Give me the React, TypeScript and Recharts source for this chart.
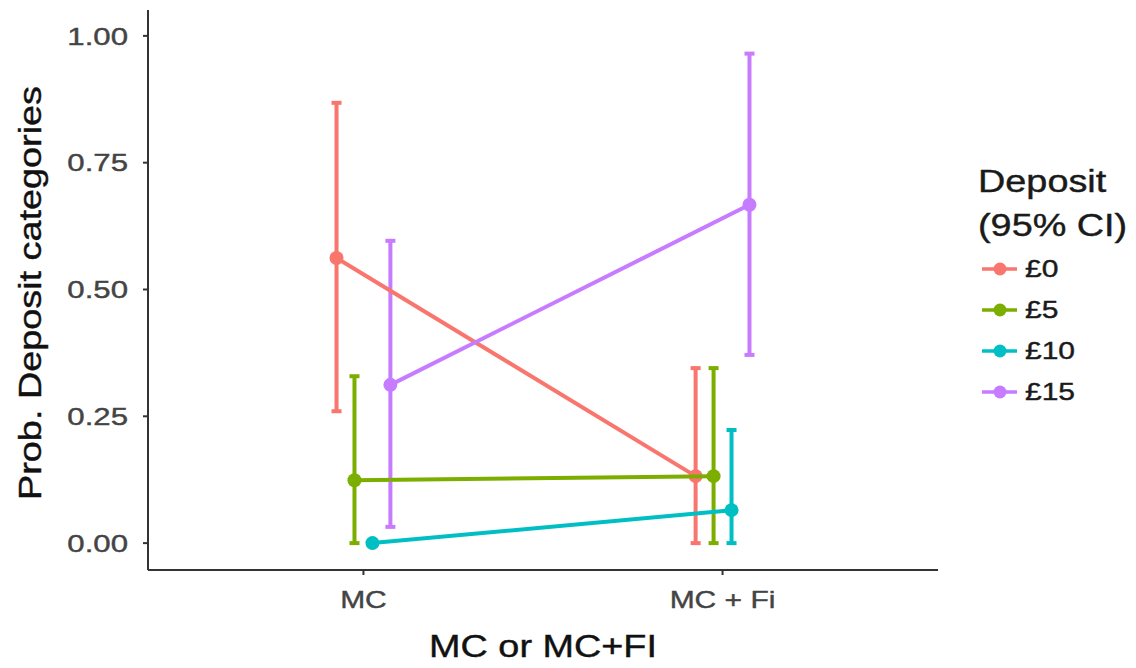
import { ErrorBar, Scatter, ScatterChart, XAxis, YAxis } from "recharts"

const categories = ["MC", "MC + Fi"]
const deposits = ["£0", "£5", "£10", "£15"]
const colors = ["#F8766D", "#7CAE00", "#00BFC4", "#C77CFF"]

// estimates and 95% CI per deposit category, [MC, MC + Fi]
const prob0 = [0.562, 0.132]
const low0 = [0.26, 0]
const high0 = [0.868, 0.345]

const prob5 = [0.124, 0.132]
const low5 = [0, 0]
const high5 = [0.329, 0.345]

const prob10 = [0, 0.065]
const low10 = [0, 0]
const high10 = [0, 0.223]

const prob15 = [0.312, 0.667]
const low15 = [0.032, 0.371]
const high15 = [0.596, 0.965]

const yTicks = [0, 0.25, 0.5, 0.75, 1]

const probs = [prob0, prob5, prob10, prob15]
const lows = [low0, low5, low10, low15]
const highs = [high0, high5, high10, high15]

// position_dodge offsets in x units
const dodge = [-0.075, -0.025, 0.025, 0.075]

const font = '"Liberation Sans", Arial, Helvetica, sans-serif'
// the original text is drawn noticeably wider than Liberation Sans
const stretch = 1.22

const series = deposits.map((name, s) => ({
  name,
  color: colors[s],
  data: categories.map((cat, i) => ({
    x: i + 1 + dodge[s],
    y: probs[s][i],
    err: [probs[s][i] - lows[s][i], highs[s][i] - probs[s][i]],
  })),
}))

function Dot(props: any) {
  const { cx, cy, fill } = props
  return <circle cx={cx} cy={cy} r={7} fill={fill} />
}

function XTick(props: any) {
  const { x, y, payload } = props
  return (
    <g transform={`translate(${x},${y}) scale(1.25,1)`}>
      <text
        textAnchor="middle"
        dy="0.71em"
        fill="#444"
        stroke="#444"
        strokeWidth={0.4}
        fontSize={24}
        fontFamily={font}
      >
        {categories[payload.value - 1]}
      </text>
    </g>
  )
}

function YTick(props: any) {
  const { x, y, payload } = props
  return (
    <g transform={`translate(${x},${y}) scale(1.3,1)`}>
      <text
        textAnchor="end"
        dy="0.36em"
        fill="#444"
        stroke="#444"
        strokeWidth={0.4}
        fontSize={24}
        fontFamily={font}
      >
        {payload.value.toFixed(2)}
      </text>
    </g>
  )
}

function XTitle(props: any) {
  const { x, width } = props.viewBox
  return (
    <g transform={`translate(${x + width / 2},657) scale(${stretch},1)`}>
      <text textAnchor="middle" fill="#111" stroke="#111" strokeWidth={0.4} fontSize={31} fontFamily={font}>
        MC or MC+FI
      </text>
    </g>
  )
}

function YTitle(props: any) {
  const { y, height } = props.viewBox
  return (
    <g transform={`translate(41,${y + height / 2 + 3}) rotate(-90) scale(${stretch},1)`}>
      <text textAnchor="middle" fill="#111" stroke="#111" strokeWidth={0.4} fontSize={31} fontFamily={font}>
        Prob. Deposit categories
      </text>
    </g>
  )
}

function DepositLegend() {
  return (
    <div
      style={{
        position: "absolute",
        left: 978,
        top: 160,
        fontFamily: font,
        color: "#1a1a1a",
        WebkitTextStroke: "0.4px #1a1a1a",
      }}
    >
      <div style={{ transform: `scaleX(${stretch})`, transformOrigin: "left" }}>
        <div style={{ fontSize: 31, lineHeight: "44px" }}>Deposit</div>
        <div style={{ fontSize: 31, lineHeight: "44px" }}>(95% CI)</div>
      </div>
      {deposits.map((d, i) => (
        <div key={d} style={{ display: "flex", alignItems: "center", height: 41 }}>
          <svg width={44} height={20}>
            <line x1={4} y1={10} x2={39} y2={10} stroke={colors[i]} strokeWidth={3.5} />
            <circle cx={22} cy={10} r={6.5} fill={colors[i]} />
          </svg>
          <span
            style={{
              fontSize: 24,
              marginLeft: 3,
              display: "inline-block",
              transform: `scaleX(1.25)`,
              transformOrigin: "left",
            }}
          >
            {d}
          </span>
        </div>
      ))}
    </div>
  )
}

export default function App() {
  return (
    <div style={{ position: "absolute", left: 0, top: 0, width: 1136, height: 668, background: "#fff" }}>
      <ScatterChart
        width={1136}
        height={668}
        margin={{ top: 10, right: 198, bottom: 0, left: 0 }}
      >
        <XAxis
          type="number"
          dataKey="x"
          domain={[0.4, 2.6]}
          ticks={[1, 2]}
          height={98}
          stroke="#333333"
          strokeWidth={2}
          tickSize={5}
          tickMargin={16}
          tick={<XTick />}
          label={<XTitle />}
          allowDataOverflow
        />
        <YAxis
          type="number"
          dataKey="y"
          domain={[-0.053, 1.051]}
          ticks={yTicks}
          width={148}
          stroke="#333333"
          strokeWidth={2}
          tickSize={5}
          tickMargin={15}
          tick={<YTick />}
          label={<YTitle />}
          allowDataOverflow
        />
        {series.map((s) => (
          <Scatter
            key={s.name}
            name={s.name}
            data={s.data}
            fill={s.color}
            line={{ stroke: s.color, strokeWidth: 4 }}
            shape={<Dot />}
            isAnimationActive={false}
          >
            <ErrorBar
              dataKey="err"
              direction="y"
              width={5}
              stroke={s.color}
              strokeWidth={4}
              isAnimationActive={false}
            />
          </Scatter>
        ))}
      </ScatterChart>
      <DepositLegend />
    </div>
  )
}
